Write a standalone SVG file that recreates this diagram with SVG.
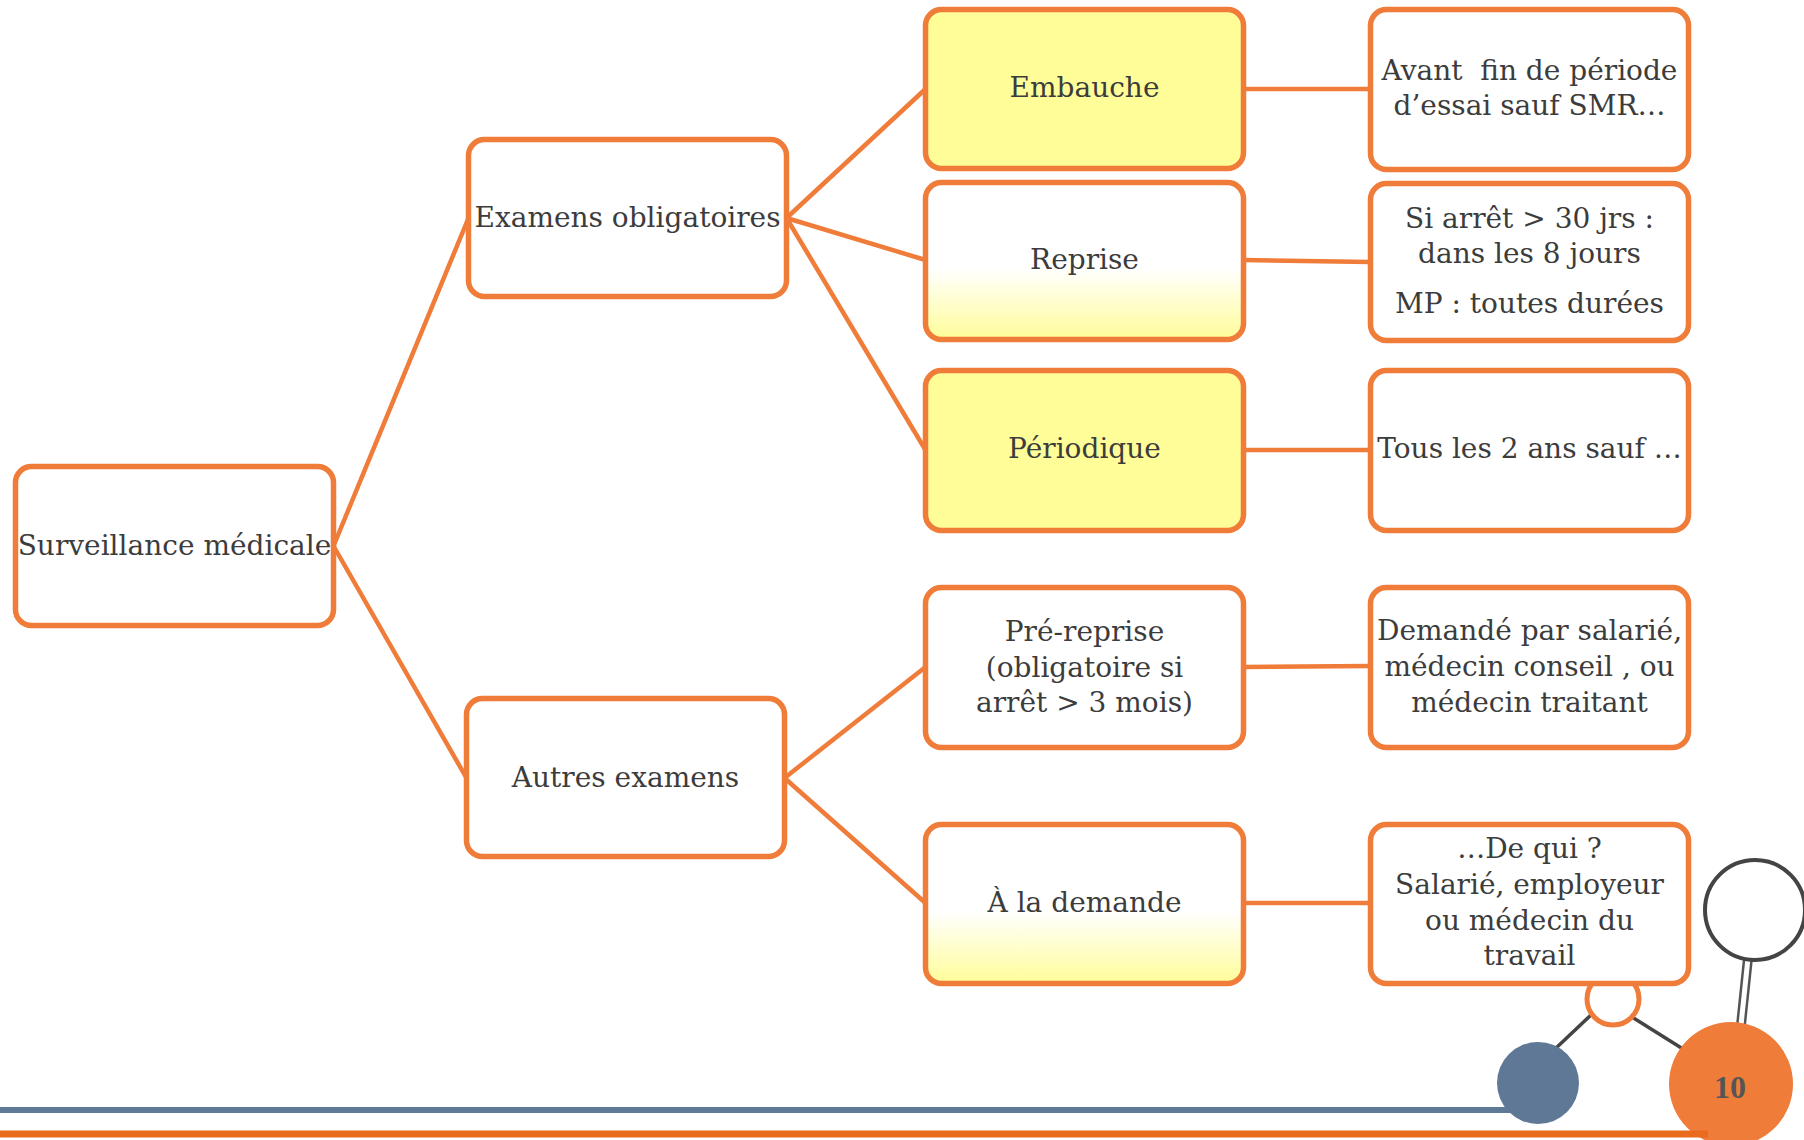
<svg xmlns="http://www.w3.org/2000/svg" width="1804" height="1140" viewBox="0 0 1804 1140">
<defs>
<linearGradient id="fade" x1="0" y1="0" x2="0" y2="1">
<stop offset="0" stop-color="#ffffff"/>
<stop offset="0.55" stop-color="#ffffff"/>
<stop offset="1" stop-color="#fffd98"/>
</linearGradient>
</defs>
<style>
.box{stroke:#f07c3a;stroke-width:5.5;fill:#ffffff}
.yel{fill:#fffd98}
.grd{fill:url(#fade)}
.t{font-family:"DejaVu Serif","Liberation Serif",serif;font-size:28px;fill:#3c3c3c;text-anchor:middle}
.con line{stroke:#f07c3a;stroke-width:4.5;stroke-linecap:round}
</style>
<rect width="1804" height="1140" fill="#ffffff"/>

<g id="connectors" class="con">
<line x1="333.5" y1="546" x2="468.5" y2="218"/>
<line x1="333.5" y1="546" x2="466.5" y2="778"/>
<line x1="786.5" y1="218" x2="925.5" y2="89"/>
<line x1="786.5" y1="218" x2="925.5" y2="260"/>
<line x1="786.5" y1="218" x2="925.5" y2="450"/>
<line x1="784.5" y1="778" x2="925.5" y2="667"/>
<line x1="784.5" y1="778" x2="925.5" y2="903"/>
<line x1="1243.5" y1="89" x2="1370.5" y2="89"/>
<line x1="1243.5" y1="260" x2="1370.5" y2="262"/>
<line x1="1243.5" y1="450" x2="1370.5" y2="450"/>
<line x1="1243.5" y1="667" x2="1370.5" y2="666"/>
<line x1="1243.5" y1="903" x2="1370.5" y2="903"/>
</g>

<g id="decor">
<line x1="1555" y1="1049" x2="1592" y2="1014" stroke="#444" stroke-width="3.5"/>
<line x1="1632" y1="1017" x2="1683" y2="1049" stroke="#444" stroke-width="3.5"/>
<line x1="1748" y1="958" x2="1741" y2="1025" stroke="#555" stroke-width="10"/>
<line x1="1748" y1="958" x2="1741" y2="1025" stroke="#ffffff" stroke-width="5"/>
<circle cx="1755" cy="910" r="50" fill="none" stroke="#444" stroke-width="4"/>
<line x1="0" y1="1110" x2="1520" y2="1110" stroke="#5f7a99" stroke-width="6"/>
<circle cx="1538" cy="1083" r="41" fill="#5f7896"/>
<circle cx="1613" cy="999" r="26" fill="#ffffff" stroke="#f07c3a" stroke-width="5"/>
<circle cx="1731" cy="1084" r="62" fill="#f07c3a"/>
<line x1="0" y1="1134" x2="1708" y2="1134" stroke="#e96b1d" stroke-width="7"/>
<text x="1730" y="1098" font-family="Liberation Serif, serif" font-weight="bold" font-size="32" fill="#555555" text-anchor="middle">10</text>
</g>

<g id="n-surveillance"><rect class="box" x="15.5" y="466.5" width="318" height="159" rx="16"/><text class="t" x="174.5" y="555">Surveillance médicale</text></g>
<g id="n-examens"><rect class="box" x="468.5" y="139.5" width="318" height="157" rx="16"/><text class="t" x="627.5" y="227">Examens obligatoires</text></g>
<g id="n-autres"><rect class="box" x="466.5" y="698.5" width="318" height="158" rx="16"/><text class="t" x="625.5" y="787">Autres examens</text></g>

<g id="n-embauche"><rect class="box yel" x="925.5" y="9.5" width="318" height="159" rx="16"/><text class="t" x="1084.5" y="97">Embauche</text></g>
<g id="n-reprise"><rect class="box grd" x="925.5" y="182.5" width="318" height="157" rx="16"/><text class="t" x="1084.5" y="269">Reprise</text></g>
<g id="n-periodique"><rect class="box yel" x="925.5" y="370.5" width="318" height="160" rx="16"/><text class="t" x="1084.5" y="458">Périodique</text></g>
<g id="n-prereprise"><rect class="box" x="925.5" y="587.5" width="318" height="160" rx="16"/><text class="t" x="1084.5" y="641">Pré-reprise</text><text class="t" x="1084.5" y="677">(obligatoire si</text><text class="t" x="1084.5" y="712">arrêt &gt; 3 mois)</text></g>
<g id="n-demande"><rect class="box grd" x="925.5" y="824.5" width="318" height="159" rx="16"/><text class="t" x="1084.5" y="912">À la demande</text></g>

<g id="n-avant"><rect class="box" x="1370.5" y="9.5" width="318" height="160" rx="16"/><text class="t" x="1529.5" y="80">Avant&#160; fin de période</text><text class="t" x="1529.5" y="115">d’essai sauf SMR…</text></g>
<g id="n-siarret"><rect class="box" x="1370.5" y="183.5" width="318" height="157" rx="16"/><text class="t" x="1529.5" y="228">Si arrêt &gt; 30 jrs :</text><text class="t" x="1529.5" y="263">dans les 8 jours</text><text class="t" x="1529.5" y="313">MP : toutes durées</text></g>
<g id="n-tous"><rect class="box" x="1370.5" y="370.5" width="318" height="160" rx="16"/><text class="t" x="1529.5" y="458">Tous les 2 ans sauf …</text></g>
<g id="n-demandepar"><rect class="box" x="1370.5" y="587.5" width="318" height="160" rx="16"/><text class="t" x="1529.5" y="640">Demandé par salarié,</text><text class="t" x="1529.5" y="676">médecin conseil , ou</text><text class="t" x="1529.5" y="712">médecin traitant</text></g>
<g id="n-dequi"><rect class="box" x="1370.5" y="824.5" width="318" height="159" rx="16"/><text class="t" x="1529.5" y="858">…De qui ?</text><text class="t" x="1529.5" y="894">Salarié, employeur</text><text class="t" x="1529.5" y="930">ou médecin du</text><text class="t" x="1529.5" y="965">travail</text></g>
</svg>
